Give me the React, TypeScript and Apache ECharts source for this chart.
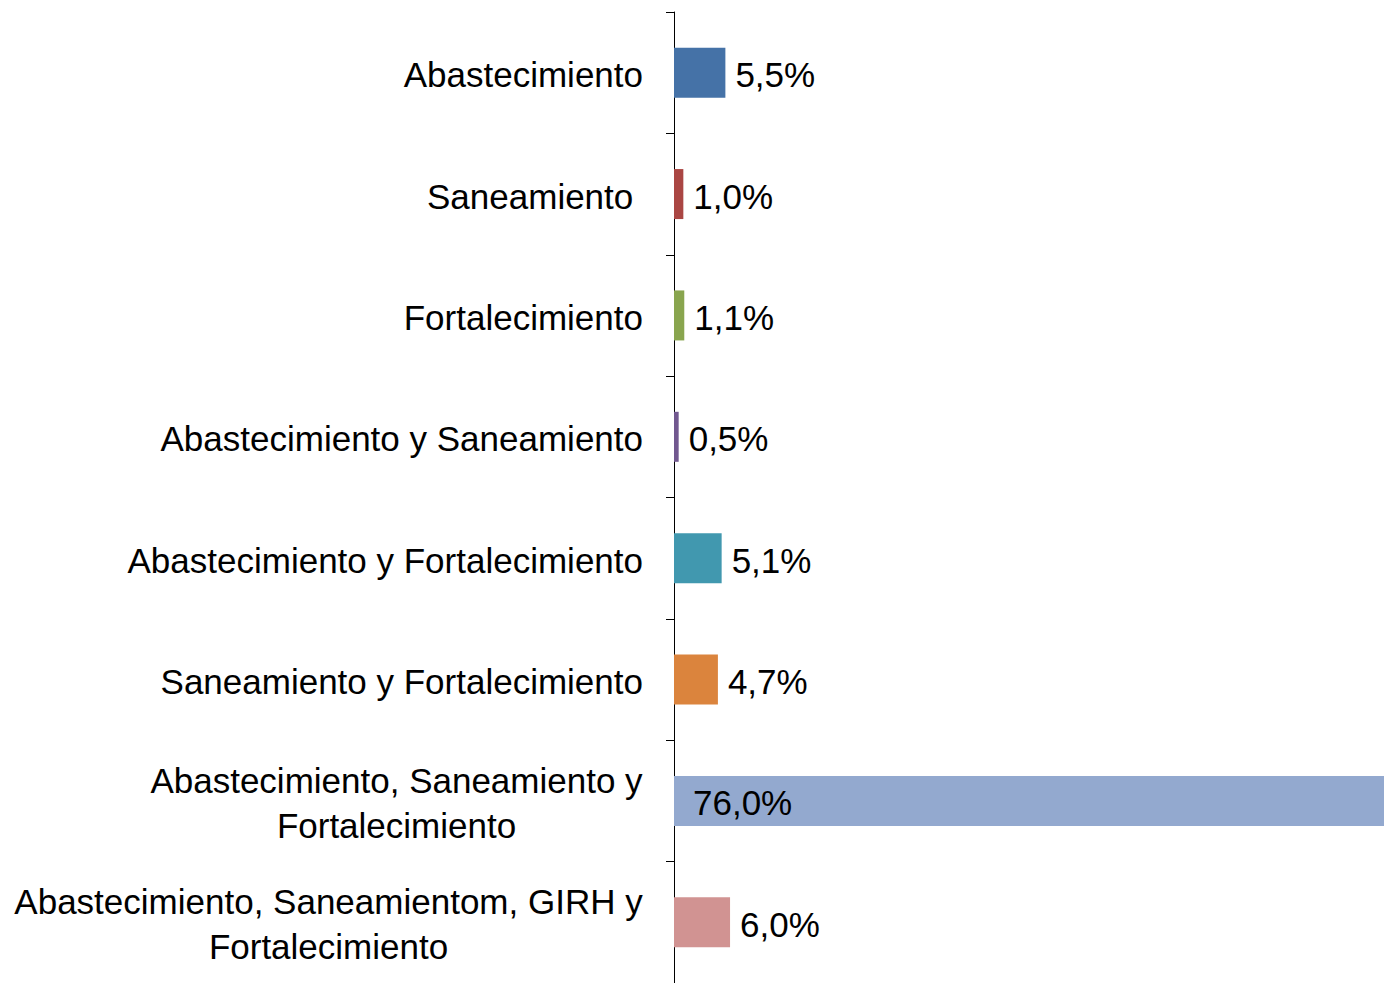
import React, { useEffect, useRef } from "react";
import * as echarts from "echarts";

const categories = [
  "Abastecimiento",
  "Saneamiento ",
  "Fortalecimiento",
  "Abastecimiento y Saneamiento",
  "Abastecimiento y Fortalecimiento",
  "Saneamiento y Fortalecimiento",
  "Abastecimiento, Saneamiento y\nFortalecimiento",
  "Abastecimiento, Saneamientom, GIRH y\nFortalecimiento",
];
const values = [5.5, 1.0, 1.1, 0.5, 5.1, 4.7, 76.0, 6.0];
const colors = ["#4572A7", "#AA4643", "#89A54E", "#71588F", "#4198AF", "#DB843D", "#93A9CF", "#D19392"];
const insideIndex = [6];

const FONT = '"Liberation Sans", Arial, sans-serif';
const FS = 35;

function measure(text: string): number {
  const c = document.createElement("canvas");
  const ctx = c.getContext("2d");
  if (!ctx) return text.length * FS * 0.55;
  ctx.font = `${FS}px "Liberation Sans", Arial, sans-serif`;
  return ctx.measureText(text).width;
}

export default function App() {
  const ref = useRef<HTMLDivElement>(null);
  useEffect(() => {
    document.body.style.margin = "0";
    if (!ref.current) return;
    const chart = echarts.init(ref.current, undefined, { renderer: "svg" });
    const rich: Record<string, any> = {};
    categories.forEach((c, i) => {
      const lines = c.split("\n");
      const w = Math.max(...lines.map(measure));
      rich["c" + i] = { width: Math.ceil(w), align: "center", fontSize: FS, fontFamily: FONT, color: "#000", lineHeight: 45 };
    });
    chart.setOption({
      animation: false,
      grid: { left: 674, right: 0, top: 12, bottom: 0, containLabel: false },
      xAxis: { type: "value", min: 0, max: 76, show: false },
      yAxis: {
        type: "category",
        inverse: true,
        data: categories,
        axisLine: { show: true, lineStyle: { color: "#000", width: 1 } },
        axisTick: { show: true, length: 8, lineStyle: { color: "#000", width: 1 } },
        axisLabel: {
          margin: 31,
          fontSize: FS,
          fontFamily: FONT,
          color: "#000",
          lineHeight: 45,
          padding: [4, 0, 0, 0],
          formatter: (v: string, i: number) => {
            const lines = v.split("\n");
            if (lines.length === 1) return v;
            return lines.map((l) => `{c${i}|${l}}`).join("\n");
          },
          rich,
        },
      },
      series: [
        {
          type: "bar",
          barWidth: 50,
          data: values.map((v, i) => ({
            value: v,
            itemStyle: { color: colors[i] },
            label: insideIndex.includes(i)
              ? { position: "insideLeft", distance: 19 }
              : { position: "right", distance: 10 },
          })),
          label: {
            show: true,
            fontSize: FS,
            fontFamily: FONT,
            color: "#000",
            offset: [0, 2],
            formatter: (p: any) => p.value.toFixed(1).replace(".", ",") + "%",
          },
        },
      ],
    });
    return () => chart.dispose();
  }, []);
  return <div ref={ref} style={{ width: 1384, height: 983 }} />;
}
